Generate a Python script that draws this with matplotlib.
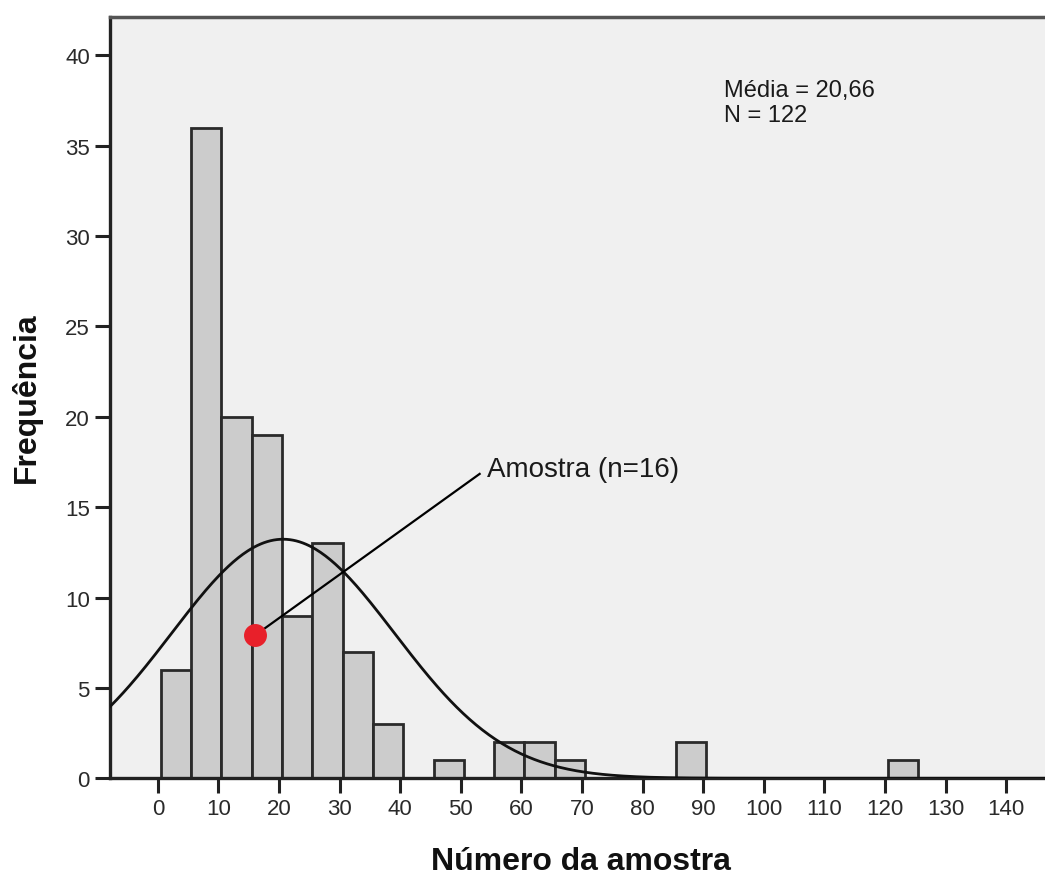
import numpy as np
import matplotlib
matplotlib.use('Agg')
import matplotlib.pyplot as plt

# dados do histograma (classes de largura 5, a partir de 0,5)
bin_start = 0.5
bin_width = 5
counts = [6, 36, 20, 19, 9, 13, 7, 3, 0, 1, 0, 2, 2, 1, 0, 0, 0, 2,
          0, 0, 0, 0, 0, 0, 1]

media = 20.66
desvio = 18.4
n_total = 122

amostra_x = 16
amostra_y = 7.9
amostra_txt = 'Amostra (n=16)'

x_ticks = list(range(0, 150, 10))
y_ticks = list(range(0, 45, 5))

plt.rcParams['font.family'] = ['Liberation Sans', 'DejaVu Sans']

fig = plt.figure(figsize=(10.45, 8.79), dpi=100)
ax = fig.add_axes([110 / 1045, 1 - 779.3 / 879, 1 - 110 / 1045, (779.3 - 18.3) / 879])
ax.set_facecolor('#f0f0f0')

lefts = [bin_start + i * bin_width for i in range(len(counts))]
bl = [l for l, c in zip(lefts, counts) if c > 0]
bc = [c for c in counts if c > 0]
ax.bar(bl, bc, width=bin_width, align='edge', color='#cccccc',
       edgecolor='#2a2a2a', linewidth=2.0, zorder=2)

# curva normal ajustada
xs = np.linspace(-10, 150, 600)
escala = n_total * bin_width / (desvio * np.sqrt(2 * np.pi))
ys = escala * np.exp(-(xs - media) ** 2 / (2 * desvio ** 2))
ax.plot(xs, ys, color='#111111', linewidth=2.0, zorder=3)

# ponto da amostra
ax.plot([amostra_x, 53.1], [amostra_y, 16.84], color='black', linewidth=1.6, zorder=4)
ax.plot(amostra_x, amostra_y, 'o', color='#e8202a', markersize=15.5, zorder=5)
ax.text(54.3, 16.71, amostra_txt, fontsize=20, color='#1a1a1a', va='baseline', zorder=6)

ax.text(93.4, 37.76, 'Média = 20,66', fontsize=17, color='#1a1a1a', va='baseline')
ax.text(93.4, 36.39, 'N = 122', fontsize=17, color='#1a1a1a', va='baseline')

ax.set_xlim(-7.9, 146.4)
ax.set_ylim(0, 42.1)
ax.set_xticks(x_ticks)
ax.set_yticks(y_ticks)
ax.tick_params(direction='out', length=11, width=2.2, color='#222222',
               labelsize=16, labelcolor='#2a2a2a', pad=3.5)

for s in ['left', 'bottom']:
    ax.spines[s].set_linewidth(2.4)
    ax.spines[s].set_color('#222222')
ax.spines['top'].set_linewidth(2.5)
ax.spines['top'].set_color('#555555')
ax.spines['right'].set_visible(False)

ax.set_xlabel('Número da amostra', fontsize=23, fontweight='bold', color='#111111', va='baseline')
ax.xaxis.set_label_coords((581 - 110) / 935, (779.3 - 870) / 761)
ax.set_ylabel('Frequência', fontsize=23, fontweight='bold', color='#111111')
ax.yaxis.set_label_coords((42 - 110) / 935, 0.501)

fig.savefig('out.png', dpi=100, facecolor='white')
